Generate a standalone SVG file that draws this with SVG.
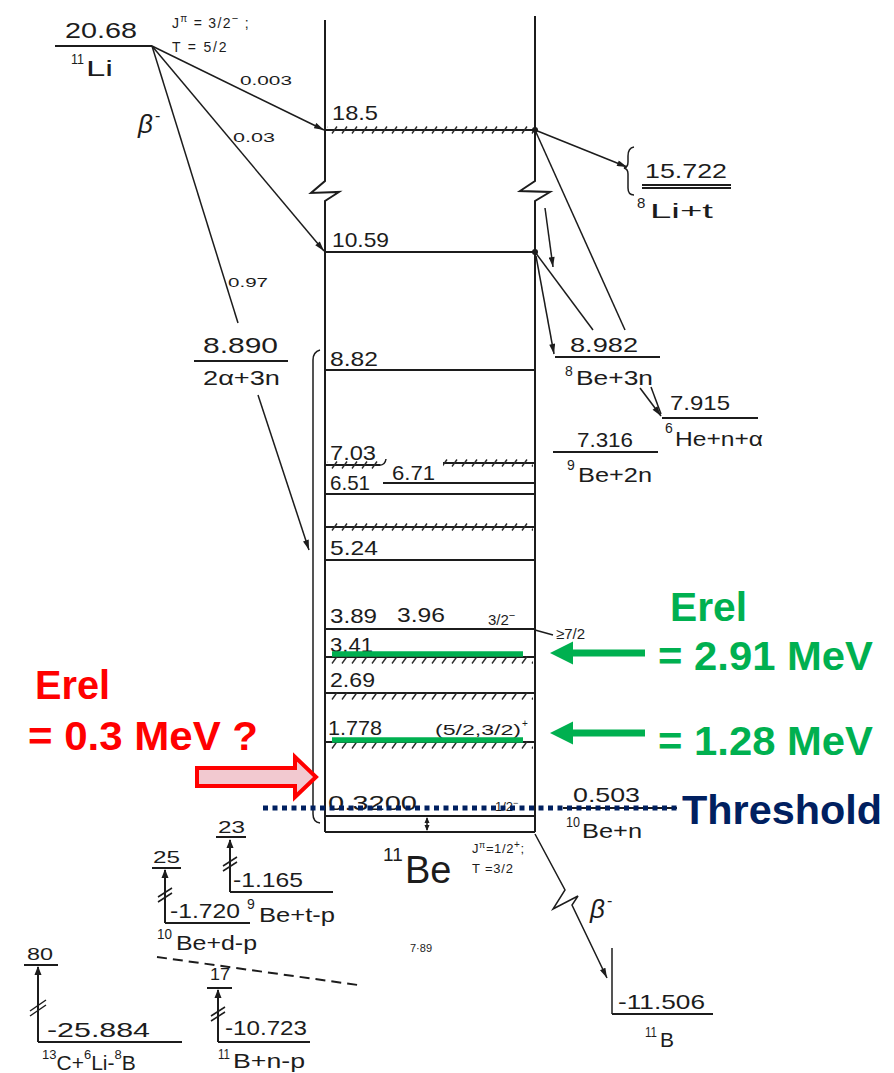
<svg xmlns="http://www.w3.org/2000/svg" width="894" height="1073" viewBox="0 0 894 1073">
<style>
.ln{stroke:#1c1c1c;stroke-width:2;fill:none}
.thin{stroke:#1c1c1c;stroke-width:1.5;fill:none}
.t{font-family:"Liberation Sans",Arial,sans-serif;fill:#1c1c1c;font-size:21px}
.s{font-family:"Liberation Sans",Arial,sans-serif;fill:#1c1c1c;font-size:13px}
.sup{font-family:"Liberation Sans",Arial,sans-serif;fill:#1c1c1c;font-size:14px}
.gr{font-family:"Liberation Sans",Arial,sans-serif;font-weight:bold;fill:#00B050;font-size:40px}
.rd{font-family:"Liberation Sans",Arial,sans-serif;font-weight:bold;fill:#FF0000;font-size:40px}
.nv{font-family:"Liberation Sans",Arial,sans-serif;font-weight:bold;fill:#002060;font-size:40px}
.hat{fill:url(#hatch)}
</style>
<defs>
<pattern id="hatch" width="10" height="8" patternUnits="userSpaceOnUse">
<path d="M2,7.5 L7,0.5" stroke="#2a2a2a" stroke-width="1.4"/>
</pattern>
<marker id="arr" viewBox="0 0 10 6" refX="10" refY="3" markerWidth="11" markerHeight="6" markerUnits="userSpaceOnUse" orient="auto">
<path d="M0,0 L10,3 L0,6 Z" fill="#1c1c1c"/>
</marker>
</defs>

<!-- 11Be box frame -->
<g id="be11-frame">
<path class="ln" d="M325,20 V181 L311,193 L339,192 L325,201 V832"/>
<path class="ln" d="M535,16 V181 L520,191 L550,192 L535,201 V832"/>
<line class="ln" x1="325" y1="832" x2="535" y2="832"/>
<path class="thin" d="M320,350 Q313,352 313,360 V814 Q313,822 320,823"/>
<text class="t" x="383" y="861" style="font-size:19px">11</text>
<text class="t" x="405" y="883" style="font-size:38px">Be</text>
<text class="s" x="472" y="853" style="font-size:13px" letter-spacing="0.6">J<tspan font-size="9" dy="-5">π</tspan><tspan dy="5">=1/2</tspan><tspan font-size="10" dy="-5">+</tspan><tspan dy="5">;</tspan></text>
<text class="s" x="472" y="873" style="font-size:13px" letter-spacing="0.8">T =3/2</text>
<text class="s" x="410" y="952" style="font-size:11px">7·89</text>
</g>

<!-- 11Li -->
<g id="li11">
<line class="ln" x1="55" y1="46" x2="152" y2="46"/>
<text class="t" x="65" y="38" style="font-size:22px" textLength="72" lengthAdjust="spacingAndGlyphs">20.68</text>
<text class="sup" x="71" y="64" textLength="13" lengthAdjust="spacingAndGlyphs">11</text>
<text class="t" x="86" y="76" style="font-size:22px" textLength="27" lengthAdjust="spacingAndGlyphs">Li</text>
<text class="s" x="172" y="28" style="font-size:14px" letter-spacing="1.3">J<tspan font-size="10" dy="-6">π</tspan><tspan dy="6"> = 3/2</tspan><tspan font-size="11" dy="-6">−</tspan><tspan dy="6"> ;</tspan></text>
<text class="s" x="172" y="52" style="font-size:14px" letter-spacing="1.8">T = 5/2</text>
<text class="t" x="138" y="133" style="font-size:26px;font-style:italic">β</text>
<text class="t" x="155" y="121" style="font-size:16px">-</text>
</g>

<!-- levels -->
<g id="lv-18_5">
<line class="ln" x1="325" y1="130" x2="535" y2="130"/>
<g transform="translate(0,126)"><rect class="hat" x="327" y="0" width="206" height="8"/></g>
<text class="t" x="332" y="120" textLength="46" lengthAdjust="spacingAndGlyphs">18.5</text>
<circle cx="535" cy="130" r="3" fill="#1c1c1c"/>
</g>
<g id="lv-10_59">
<line class="ln" x1="325" y1="252" x2="535" y2="252"/>
<text class="t" x="332" y="247" textLength="57" lengthAdjust="spacingAndGlyphs">10.59</text>
<circle cx="535" cy="252" r="3" fill="#1c1c1c"/>
</g>
<g id="lv-8_82">
<line class="ln" x1="325" y1="370" x2="535" y2="370"/>
<text class="t" x="330" y="366" textLength="48" lengthAdjust="spacingAndGlyphs">8.82</text>
</g>
<g id="lv-7_03">
<line class="ln" x1="325" y1="465" x2="380" y2="465"/>
<g transform="translate(0,461)"><rect class="hat" x="327" y="0" width="54" height="8"/></g>
<path class="thin" d="M378,465 Q385,466 386,459"/>
<line class="ln" x1="443" y1="463" x2="535" y2="463"/>
<g transform="translate(0,459)"><rect class="hat" x="443" y="0" width="90" height="8"/></g>
<text class="t" x="330" y="460" textLength="46" lengthAdjust="spacingAndGlyphs">7.03</text>
</g>
<g id="lv-6_71">
<line class="ln" x1="383" y1="483" x2="535" y2="483"/>
<text class="t" x="392" y="480" textLength="43" lengthAdjust="spacingAndGlyphs">6.71</text>
</g>
<g id="lv-6_51">
<line class="ln" x1="325" y1="494" x2="535" y2="494"/>
<text class="t" x="330" y="490" textLength="40" lengthAdjust="spacingAndGlyphs">6.51</text>
</g>
<g id="lv-hatch-527">
<line class="ln" x1="325" y1="527" x2="535" y2="527"/>
<g transform="translate(0,523)"><rect class="hat" x="328" y="0" width="205" height="8"/></g>
</g>
<g id="lv-5_24">
<line class="ln" x1="325" y1="560" x2="535" y2="560"/>
<text class="t" x="330" y="555" textLength="48" lengthAdjust="spacingAndGlyphs">5.24</text>
</g>
<g id="lv-3_89">
<line class="ln" x1="325" y1="629" x2="535" y2="629" stroke-width="2.5"/>
<text class="t" x="330" y="623" textLength="47" lengthAdjust="spacingAndGlyphs">3.89</text>
<text class="t" x="397" y="622" textLength="48" lengthAdjust="spacingAndGlyphs">3.96</text>
<text class="s" x="488" y="625" style="font-size:15px">3/2<tspan font-size="11" dy="-6">−</tspan></text>
<line class="thin" x1="535" y1="630" x2="553" y2="635"/>
<text class="s" x="556" y="639" style="font-size:15px">≥7/2</text>
</g>
<g id="lv-3_41">
<line class="ln" x1="325" y1="657" x2="535" y2="657"/>
<g transform="translate(0,656)"><rect class="hat" x="328" y="0" width="205" height="8"/></g>
<text class="t" x="330" y="652" textLength="43" lengthAdjust="spacingAndGlyphs">3.41</text>
<line x1="332" y1="654" x2="523" y2="654" stroke="#00B050" stroke-width="5.5"/>
</g>
<g id="lv-2_69">
<line class="ln" x1="325" y1="693" x2="535" y2="693"/>
<g transform="translate(0,692)"><rect class="hat" x="328" y="0" width="205" height="8"/></g>
<text class="t" x="330" y="687" textLength="45" lengthAdjust="spacingAndGlyphs">2.69</text>
</g>
<g id="lv-1_778">
<line class="ln" x1="325" y1="742" x2="535" y2="742"/>
<g transform="translate(0,741)"><rect class="hat" x="328" y="0" width="205" height="8"/></g>
<text class="t" x="328" y="735" textLength="54" lengthAdjust="spacingAndGlyphs">1.778</text>
<text class="s" x="435" y="735" style="font-size:14px" textLength="86" lengthAdjust="spacingAndGlyphs">(5/2,3/2)</text>
<text class="s" x="522" y="727" style="font-size:10px">+</text>
<line x1="332" y1="740" x2="523" y2="740" stroke="#00B050" stroke-width="5.5"/>
</g>
<g id="lv-0_32">
<line class="ln" x1="325" y1="816" x2="535" y2="816"/>
<text class="t" x="328" y="810" textLength="89" lengthAdjust="spacingAndGlyphs">0.3200</text>
<text class="s" x="495" y="811" style="font-size:13px">1/2<tspan font-size="9" dy="-5">−</tspan></text>
</g>

<!-- thresholds / channels -->
<g id="li8-t">
<path class="thin" d="M634,147 Q628,148 628,156 V162 Q628,167 624,168 Q628,169 628,174 V188 Q628,195 634,195"/>
<text class="t" x="645" y="178" textLength="82" lengthAdjust="spacingAndGlyphs">15.722</text>
<line class="ln" x1="642" y1="185" x2="731" y2="185"/>
<line class="ln" x1="642" y1="188" x2="731" y2="188"/>
<text class="sup" x="637" y="208" style="font-size:15px">8</text>
<text class="t" x="650" y="218" textLength="63" lengthAdjust="spacingAndGlyphs">Li+t</text>
</g>
<g id="be8-3n">
<line class="ln" x1="555" y1="357" x2="660" y2="357"/>
<text class="t" x="570" y="352" textLength="68" lengthAdjust="spacingAndGlyphs">8.982</text>
<text class="sup" x="565" y="376">8</text>
<text class="t" x="576" y="385" style="font-size:20px" textLength="77" lengthAdjust="spacingAndGlyphs">Be+3n</text>
</g>
<g id="he6-n-a">
<line class="ln" x1="662" y1="418" x2="758" y2="418"/>
<text class="t" x="670" y="410" textLength="60" lengthAdjust="spacingAndGlyphs">7.915</text>
<text class="sup" x="665" y="433">6</text>
<text class="t" x="675" y="446" style="font-size:20px" textLength="88" lengthAdjust="spacingAndGlyphs">He+n+α</text>
</g>
<g id="be9-2n">
<line class="ln" x1="553" y1="452" x2="658" y2="452"/>
<text class="t" x="577" y="447" textLength="56" lengthAdjust="spacingAndGlyphs">7.316</text>
<text class="sup" x="567" y="470">9</text>
<text class="t" x="578" y="482" style="font-size:20px" textLength="74" lengthAdjust="spacingAndGlyphs">Be+2n</text>
</g>
<g id="alpha2-3n">
<line class="ln" x1="194" y1="361" x2="288" y2="361"/>
<text class="t" x="203" y="353" style="font-size:22px" textLength="75" lengthAdjust="spacingAndGlyphs">8.890</text>
<text class="t" x="203" y="385" textLength="77" lengthAdjust="spacingAndGlyphs">2α+3n</text>
</g>
<g id="be10-n">
<line class="ln" x1="563" y1="808" x2="677" y2="808"/>
<text class="t" x="573" y="802" textLength="67" lengthAdjust="spacingAndGlyphs">0.503</text>
<text class="sup" x="566" y="827" textLength="14" lengthAdjust="spacingAndGlyphs">10</text>
<text class="t" x="582" y="838" style="font-size:20px" textLength="60" lengthAdjust="spacingAndGlyphs">Be+n</text>
</g>
<g id="b11">
<line class="thin" x1="612" y1="948" x2="612" y2="1014"/>
<line class="ln" x1="612" y1="1014" x2="713" y2="1014"/>
<text class="t" x="618" y="1009" textLength="87" lengthAdjust="spacingAndGlyphs">-11.506</text>
<text class="sup" x="645" y="1037" textLength="12" lengthAdjust="spacingAndGlyphs">11</text>
<text class="t" x="660" y="1047">B</text>
</g>
<g id="be9-t-p">
<line class="ln" x1="216" y1="837" x2="246" y2="837"/>
<text class="t" x="218" y="833" style="font-size:17px" textLength="27" lengthAdjust="spacingAndGlyphs">23</text>
<path class="ln" d="M230,892 V840 M230,892 H333"/>
<path d="M230,839 L226.5,848 L233.5,848 Z" fill="#1c1c1c"/>
<path class="thin" d="M223,866 L237,857 M223,871 L237,862"/>
<text class="t" x="233" y="887" textLength="70" lengthAdjust="spacingAndGlyphs">-1.165</text>
<text class="sup" x="247" y="909">9</text>
<text class="t" x="259" y="922" textLength="76" lengthAdjust="spacingAndGlyphs">Be+t-p</text>
</g>
<g id="be10-d-p">
<line class="ln" x1="152" y1="868" x2="181" y2="868"/>
<text class="t" x="153" y="863" style="font-size:17px" textLength="27" lengthAdjust="spacingAndGlyphs">25</text>
<path class="ln" d="M165,923 V870 M165,923 H250"/>
<path d="M165,869 L161.5,878 L168.5,878 Z" fill="#1c1c1c"/>
<path class="thin" d="M158,897 L172,888 M158,902 L172,893"/>
<text class="t" x="170" y="918" textLength="70" lengthAdjust="spacingAndGlyphs">-1.720</text>
<text class="sup" x="157" y="939" textLength="15" lengthAdjust="spacingAndGlyphs">10</text>
<text class="t" x="176" y="950" textLength="81" lengthAdjust="spacingAndGlyphs">Be+d-p</text>
</g>
<g id="b11-n-p">
<line class="ln" x1="207" y1="988" x2="232" y2="988"/>
<text class="t" x="210" y="980" style="font-size:17px" textLength="20" lengthAdjust="spacingAndGlyphs">17</text>
<path class="ln" d="M218,1042 V990 M218,1042 H310"/>
<path d="M218,989 L214.5,998 L221.5,998 Z" fill="#1c1c1c"/>
<path class="thin" d="M211,1016 L225,1007 M211,1021 L225,1012"/>
<text class="t" x="225" y="1035" textLength="82" lengthAdjust="spacingAndGlyphs">-10.723</text>
<text class="sup" x="218" y="1059" textLength="12" lengthAdjust="spacingAndGlyphs">11</text>
<text class="t" x="233" y="1068" textLength="72" lengthAdjust="spacingAndGlyphs">B+n-p</text>
</g>
<g id="c13-li6-b8">
<line class="ln" x1="24" y1="965" x2="58" y2="965"/>
<text class="t" x="27" y="960" style="font-size:17px" textLength="26" lengthAdjust="spacingAndGlyphs">80</text>
<path class="ln" d="M38,1042 V967 M38,1042 H182"/>
<path d="M38,966 L34.5,975 L41.5,975 Z" fill="#1c1c1c"/>
<path class="thin" d="M30,1011 L46,1000 M30,1016 L46,1005"/>
<text class="t" x="47" y="1037" textLength="103" lengthAdjust="spacingAndGlyphs">-25.884</text>
<text class="t" x="42" y="1070"><tspan font-size="13" dy="-11">13</tspan><tspan dy="11">C+</tspan><tspan font-size="13" dy="-11">6</tspan><tspan dy="11">Li-</tspan><tspan font-size="13" dy="-11">8</tspan><tspan dy="11">B</tspan></text>
</g>

<!-- connectors -->
<g id="connectors">
<line class="thin" x1="152" y1="46" x2="324" y2="130" marker-end="url(#arr)"/>
<line class="thin" x1="152" y1="46" x2="324" y2="251" marker-end="url(#arr)"/>
<line class="thin" x1="152" y1="46" x2="238" y2="323"/>
<line class="thin" x1="258" y1="395" x2="309" y2="550" marker-end="url(#arr)"/>
<line class="thin" x1="535" y1="130" x2="627" y2="167" marker-end="url(#arr)"/>
<line class="thin" x1="535" y1="130" x2="625" y2="330"/>
<line class="thin" x1="535" y1="252" x2="593" y2="330"/>
<line class="thin" x1="545" y1="208" x2="553" y2="267" marker-end="url(#arr)"/>
<line class="thin" x1="536" y1="256" x2="554" y2="354" marker-end="url(#arr)"/>
<line class="thin" x1="640" y1="388" x2="661" y2="416" marker-end="url(#arr)"/>
<line class="thin" x1="651" y1="387" x2="661" y2="414"/>
<path class="thin" d="M535,834 L565,890 L553,909 L578,896 L572,905 L607,978" marker-end="url(#arr)"/>
<path class="thin" d="M427,818 V830"/>
<path d="M427,817 L424.5,823 L429.5,823 Z M427,831 L424.5,825 L429.5,825 Z" fill="#1c1c1c"/>
<line class="ln" x1="157" y1="957" x2="358" y2="985" stroke-dasharray="10 6"/>
<text class="s" x="240" y="85" textLength="52" lengthAdjust="spacingAndGlyphs">0.003</text>
<text class="s" x="233" y="142" textLength="42" lengthAdjust="spacingAndGlyphs">0.03</text>
<text class="s" x="228" y="287" style="font-size:12px" textLength="40" lengthAdjust="spacingAndGlyphs">0.97</text>
<text class="t" x="590" y="918" style="font-size:26px;font-style:italic">β</text>
<text class="t" x="607" y="906" style="font-size:16px">-</text>
</g>

<!-- annotations -->
<g id="threshold">
<line x1="263" y1="808" x2="680" y2="808" stroke="#002060" stroke-width="5" stroke-dasharray="5 4.5"/>
<text class="nv" x="682" y="824" textLength="200" lengthAdjust="spacingAndGlyphs">Threshold</text>
</g>
<g id="erel-green">
<text class="gr" x="670" y="621" textLength="77" lengthAdjust="spacingAndGlyphs">Erel</text>
<text class="gr" x="658" y="670" textLength="215" lengthAdjust="spacingAndGlyphs">= 2.91 MeV</text>
<text class="gr" x="658" y="755" textLength="215" lengthAdjust="spacingAndGlyphs">= 1.28 MeV</text>
<path d="M550,653 L573,641.5 L573,649.5 L645,649.5 L645,656.5 L573,656.5 L573,664.5 Z" fill="#00B050"/>
<path d="M550,733 L573,721.5 L573,729.5 L645,729.5 L645,736.5 L573,736.5 L573,744.5 Z" fill="#00B050"/>
</g>
<g id="erel-red">
<text class="rd" x="35" y="699" textLength="75" lengthAdjust="spacingAndGlyphs">Erel</text>
<text class="rd" x="28" y="750" textLength="230" lengthAdjust="spacingAndGlyphs">= 0.3 MeV ?</text>
<path d="M197,768 L295,768 L295,757 L316,777 L295,797 L295,786 L197,786 Z" fill="#F2C9D0" stroke="#FF0000" stroke-width="4"/>
</g>
</svg>
